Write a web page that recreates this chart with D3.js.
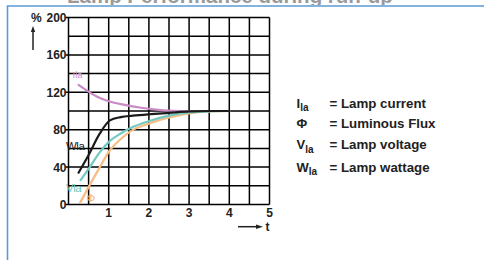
<!DOCTYPE html>
<html><head><meta charset="utf-8">
<script src="https://cdn.jsdelivr.net/npm/d3@7"></script>
<style>body{margin:0;background:#fff}svg{display:block}</style>
</head><body>
<script>
// ---- data ----
const xTicks = [1, 2, 3, 4, 5];
const yTicks = [0, 40, 80, 120, 160, 200];
const tIla = [0.25, 0.45, 0.7, 1.0, 1.4, 1.8, 2.3, 2.8, 3.3];
const vIla = [128, 122, 115.5, 110.5, 106.5, 103.5, 101, 100, 100];
const tWla = [0.25, 0.5, 0.78, 1.03, 1.3, 1.6, 2.0, 2.5, 3.0, 3.5, 4.0];
const vWla = [34, 53, 76, 90, 93.5, 95, 96.5, 98, 99.5, 100, 100];
const tVla = [0.3, 0.53, 0.78, 1.03, 1.3, 1.53, 2.03, 2.5, 3.0, 3.5, 4.0];
const vVla = [26, 40, 56, 68, 76, 81.5, 89.5, 95, 98.5, 99.7, 100];
const tPhi = [0.29, 0.53, 0.78, 1.03, 1.3, 1.53, 2.03, 2.5, 3.0, 3.5, 4.0];
const vPhi = [2, 21, 40, 58, 70, 78, 87, 93, 97.5, 99.5, 100];
const legendSymbols = ["I", "Φ", "V", "W"];
const legendSubs = ["la", "", "la", "la"];
const legendTexts = ["= Lamp current", "= Luminous Flux", "= Lamp voltage", "= Lamp wattage"];
const title = "Lamp Performance during run-up";

const W = 484, H = 260;
const svg = d3.select("body").append("svg").attr("width", W).attr("height", H);
const font = "'Liberation Sans', Arial, sans-serif";

// title (cut off at top)
svg.append("clipPath").attr("id", "tc").append("rect").attr("x", 0).attr("y", 0).attr("width", W).attr("height", 5);
svg.append("text").attr("clip-path", "url(#tc)").attr("x", 67).attr("y", 3.2)
  .attr("font-family", font).attr("font-weight", "bold").attr("font-size", 20.5)
  .attr("fill", "#9a9a9a").text(title);

// blue frame
svg.append("path").attr("d", "M7.5,260 V6 H484").attr("fill", "none")
  .attr("stroke", "#5b9bd5").attr("stroke-width", 1.6);

const x = d3.scaleLinear().domain([0, 5]).range([68.5, 269.5]);
const y = d3.scaleLinear().domain([0, 200]).range([204.5, 17.5]);

// grid
const g = svg.append("g");
const xs = d3.range(0, 5.01, 0.5), ys = d3.range(0, 200.1, 20);
g.selectAll(".vl").data(xs).enter().append("line")
  .attr("x1", d => x(d)).attr("x2", d => x(d)).attr("y1", y(0)).attr("y2", y(200))
  .attr("stroke", "#000").attr("stroke-width", 1.5);
g.selectAll(".hl").data(ys).enter().append("line")
  .attr("x1", d => x(0) - (d % 40 === 0 ? 3 : 0)).attr("x2", x(5)).attr("y1", d => y(d)).attr("y2", d => y(d))
  .attr("stroke", "#000").attr("stroke-width", 1.5);

// y tick labels
svg.selectAll(".yl").data(yTicks).enter().append("text")
  .attr("x", x(0) - 2).attr("y", d => y(d) + 4.5).attr("text-anchor", "end")
  .attr("font-family", font).attr("font-weight", "bold").attr("font-size", 12).attr("fill", "#222")
  .text(d => d);
svg.append("text").attr("x", 31).attr("y", 22).attr("font-family", font).attr("font-weight", "bold")
  .attr("font-size", 12).attr("fill", "#222").text("%");
// up arrow
svg.append("line").attr("x1", 33).attr("x2", 33).attr("y1", 50).attr("y2", 30).attr("stroke", "#222").attr("stroke-width", 1.5);
svg.append("path").attr("d", "M33,26 L30.8,32 L35.2,32 Z").attr("fill", "#222");

// x tick labels
svg.selectAll(".xl").data(xTicks).enter().append("text")
  .attr("x", d => x(d)).attr("y", 216.5).attr("text-anchor", "middle")
  .attr("font-family", font).attr("font-weight", "bold").attr("font-size", 12).attr("fill", "#222")
  .text(d => d);
// t arrow
svg.append("line").attr("x1", 238).attr("x2", 258).attr("y1", 226.7).attr("y2", 226.7).attr("stroke", "#222").attr("stroke-width", 1.5);
svg.append("path").attr("d", "M263,226.7 L256,224.5 L256,228.9 Z").attr("fill", "#222");
svg.append("text").attr("x", 265.5).attr("y", 231).attr("font-family", font).attr("font-weight", "bold")
  .attr("font-size", 12).attr("fill", "#222").text("t");

// curves
const line = d3.line().x(d => x(d[0])).y(d => y(d[1])).curve(d3.curveMonotoneX);
const series = [
  {t: tIla, v: vIla, c: "#c98ac6"},
  {t: tPhi, v: vPhi, c: "#f6bd84"},
  {t: tVla, v: vVla, c: "#72c9c2"},
  {t: tWla, v: vWla, c: "#1a1a1a"}
];
series.forEach(s => {
  svg.append("path").datum(d3.zip(s.t, s.v)).attr("d", line)
    .attr("fill", "none").attr("stroke", s.c).attr("stroke-width", 2.2).attr("stroke-linecap", "round");
});

// inline labels
svg.append("text").attr("x", 72.5).attr("y", 78).attr("font-family", font).attr("font-size", 9.5)
  .attr("fill", "#d18fcf").text("Ila");
svg.append("text").attr("x", 66).attr("y", 150).attr("font-family", font).attr("font-size", 11.5)
  .attr("fill", "#222").attr("letter-spacing", -0.5).text("Wla");
svg.append("text").attr("x", 66).attr("y", 191.5).attr("font-family", font).attr("font-size", 11.5)
  .attr("fill", "#6fc7c0").attr("letter-spacing", -0.5).text("Vla");
svg.append("text").attr("x", 86.5).attr("y", 202).attr("font-family", font).attr("font-size", 11)
  .attr("fill", "#f4b47a").text("Φ");

// legend
const ly = [107.5, 127.5, 149, 171.5];
legendSymbols.forEach((s, i) => {
  const t = svg.append("text").attr("x", 296.5).attr("y", ly[i]).attr("font-family", font)
    .attr("font-weight", "bold").attr("font-size", 13).attr("fill", "#222");
  t.append("tspan").text(s);
  if (legendSubs[i]) t.append("tspan").attr("dy", 3.5).attr("font-size", 10).text(legendSubs[i]);
  svg.append("text").attr("x", 329.5).attr("y", ly[i]).attr("font-family", font)
    .attr("font-weight", "bold").attr("font-size", 13.3).attr("fill", "#222").text(legendTexts[i]);
});
</script>
</body></html>
